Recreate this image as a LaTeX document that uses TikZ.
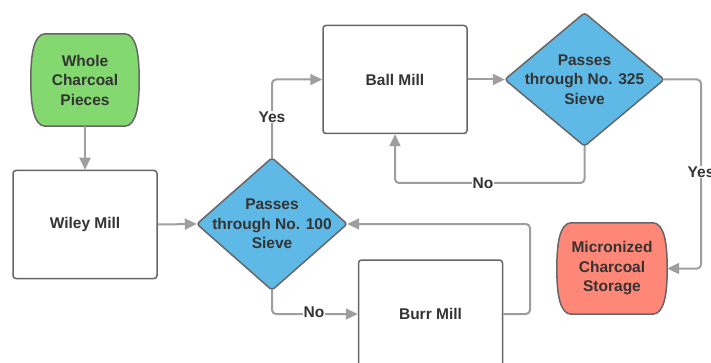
\documentclass[tikz,border=0pt]{standalone}
\usepackage{fontspec}
\setmainfont{Liberation Sans}
\usetikzlibrary{arrows.meta,calc,backgrounds}
\definecolor{gline}{HTML}{9E9E9E}
\definecolor{bord}{HTML}{666666}
\definecolor{txt}{HTML}{333333}
\definecolor{cgreen}{HTML}{83D86F}
\definecolor{cblue}{HTML}{5EB9E6}
\definecolor{cred}{HTML}{FF8778}
\tikzset{
  proc/.style={draw=bord, fill=white, line width=1.5pt, rounded corners=3pt,
    minimum width=144pt, minimum height=108pt, text=txt},
  blank/.style={minimum width=#1, text=txt, align=center, inner sep=0pt},
  shapeline/.style={draw=bord, line width=1.5pt},
  conn/.style={draw=gline, line width=2pt, rounded corners=4pt,
    -{Triangle[length=12pt,width=11pt]}},
  lbl/.style={fill=white, text=txt, inner sep=1pt}
}
\newcommand{\termshape}[2]{%
  \path[shapeline, fill=#2]
    ($(#1.north west)+(14,0)$) -- ($(#1.north east)+(-14,0)$)
    .. controls ($(#1.north east)+(-3,1)$) and ($(#1.north east)+(0,20)$) .. (#1.east)
    .. controls ($(#1.south east)+(0,-20)$) and ($(#1.south east)+(-3,-1)$) .. ($(#1.south east)+(-14,0)$)
    -- ($(#1.south west)+(14,0)$)
    .. controls ($(#1.south west)+(3,-1)$) and ($(#1.south west)+(0,-20)$) .. (#1.west)
    .. controls ($(#1.north west)+(0,20)$) and ($(#1.north west)+(3,1)$) .. cycle;}
\newcommand{\diashape}[1]{%
  \path[shapeline, fill=cblue, rounded corners=3pt]
    (#1.north) -- (#1.east) -- (#1.south) -- (#1.west) -- cycle;}
\begin{document}
\begin{tikzpicture}[x=1pt,y=-1pt,font=\bfseries\fontsize{15.5}{19.5}\selectfont]
\useasboundingbox (0,0) rectangle (711,363);
\clip (0,0) rectangle (711,363);

% nodes
\node[blank=108pt, minimum height=92pt] (whole) at (85,80) {Whole\\Charcoal\\Pieces};
\node[proc] (wiley) at (85,224.5) {Wiley Mill};
\node[blank=150pt, minimum height=132pt] (d100) at (272,224) {Passes\\through No. 100\\Sieve};
\node[proc] (ball) at (395,79.5) {Ball Mill};
\node[blank=159pt, minimum height=133pt] (d325) at (584.5,79.5) {Passes\\through No. 325\\Sieve};
\node[blank=110pt, minimum height=91pt] (store) at (612,268.5) {Micronized\\Charcoal\\Storage};
\node[proc] (burr) at (430.5,314) {Burr Mill};

\begin{scope}[on background layer]
  \termshape{whole}{cgreen}
  \termshape{store}{cred}
  \diashape{d100}
  \diashape{d325}
\end{scope}

% connectors
\draw[conn] (whole.south) -- (wiley.north);
\draw[conn] (wiley.east) -- (d100.west);
\draw[conn] (d100.north) |- (ball.west);
\node[lbl] (yes1) at (272,117) {Yes};
\draw[conn] (ball.east) -- (d325.west);
\coordinate (c325a) at (584.5,183);
\coordinate (c325b) at (395,183);
\draw[conn] (d325.south) -- (c325a) -- (c325b) -- (ball.south);
\node[lbl] (no1) at (483,183) {No};
\coordinate (c325r) at (701,79.5);
\coordinate (c325d) at (701,268.5);
\draw[conn] (d325.east) -- (c325r) -- (c325d) -- (store.east);
\node[lbl] (yes2) at (701,172) {Yes};
\draw[conn] (d100.south) |- (burr.west);
\node[lbl] (no2) at (314,312) {No};
\coordinate (burrr) at (530,314);
\coordinate (burru) at (530,224);
\draw[conn] (burr.east) -- (burrr) -- (burru) -- (d100.east);
\end{tikzpicture}
\end{document}
